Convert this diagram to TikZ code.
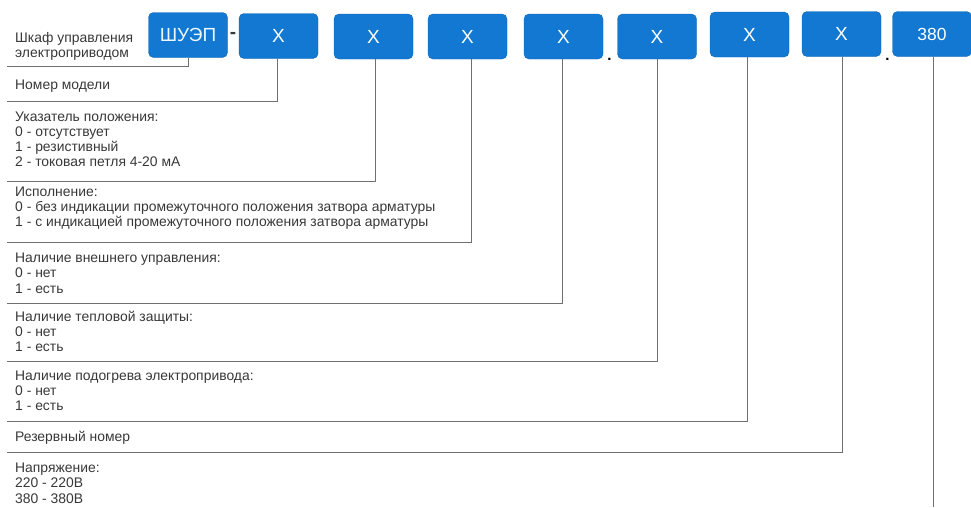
\documentclass[tikz,border=0pt]{standalone}
\usepackage{fontspec}
\setmainfont{Liberation Sans}
\definecolor{boxblue}{HTML}{1278D2}
\definecolor{boxedge}{HTML}{0E66B4}
\definecolor{txt}{HTML}{383838}
\definecolor{ln}{HTML}{707070}
\begin{document}
\begin{tikzpicture}[x=1pt,y=-1pt,
  code/.style={draw=boxedge,fill=boxblue,rounded corners=5pt,minimum width=79pt,minimum height=45pt,inner sep=0pt,text=white,font=\fontsize{19}{19}\selectfont},
  desc/.style={anchor=base west,inner sep=0pt,align=left,text=txt,font=\fontsize{13.9}{15}\selectfont},
  lead/.style={draw=ln,line width=1pt}]
\useasboundingbox (0,0) rectangle (971,507);
% code boxes
\node[code,text=cyan!8] (b0) at (188,35) {ШУЭП};
\node[code] (b1) at (278.5,36) {X};
\node[code] (b2) at (373.5,36.5) {X};
\node[code] (b3) at (467.5,36.5) {X};
\node[code] (b4) at (563.5,36.5) {X};
\node[code] (b5) at (657,36.5) {X};
\node[code] (b6) at (749.5,34.5) {X};
\node[code] (b7) at (841.5,34) {X};
\node[code,font=\fontsize{17.5}{17.5}\selectfont] (b8) at (932,34) {380};
% separators
\node[text=txt,inner sep=0pt,font=\fontsize{19}{19}\bfseries] (s0) at (233,35) {-};
\node[text=black,inner sep=0pt,font=\fontsize{15}{15}\bfseries] (s1) at (609.5,59) {.};
\node[text=black,inner sep=0pt,font=\fontsize{15}{15}\bfseries] (s2) at (887.5,59) {.};
% descriptions (anchor = baseline of last line)
\node[desc] (t0) at (15,57) {Шкаф управления\\электроприводом};
\node[desc] (t1) at (15,89) {Номер модели};
\node[desc,font=\fontsize{13.9}{14.7}\selectfont] (t2) at (15,166) {Указатель положения:\\0 - отсутствует\\1 - резистивный\\2 - токовая петля 4-20 мА};
\node[desc] (t3) at (15,226) {Исполнение:\\0 - без индикации промежуточного положения затвора арматуры\\1 - с индикацией промежуточного положения затвора арматуры};
\node[desc,font=\fontsize{13.9}{15.5}\selectfont] (t4) at (15,293) {Наличие внешнего управления:\\0 - нет\\1 - есть};
\node[desc] (t5) at (15,351) {Наличие тепловой защиты:\\0 - нет\\1 - есть};
\node[desc] (t6) at (15,410) {Наличие подогрева электропривода:\\0 - нет\\1 - есть};
\node[desc] (t7) at (15,441) {Резервный номер};
\node[desc,font=\fontsize{13.9}{15.5}\selectfont] (t8) at (15,503) {Напряжение:\\220 - 220В\\380 - 380В};
% corner and end coordinates
\coordinate (c0) at (188,66);   \coordinate (e0) at (7,66);
\coordinate (c1) at (277,101);  \coordinate (e1) at (7,101);
\coordinate (c2) at (375,181);  \coordinate (e2) at (7,181);
\coordinate (c3) at (471,242);  \coordinate (e3) at (7,242);
\coordinate (c4) at (562,303);  \coordinate (e4) at (7,303);
\coordinate (c5) at (657,361);  \coordinate (e5) at (7,361);
\coordinate (c6) at (747,421);  \coordinate (e6) at (7,421);
\coordinate (c7) at (842,452);  \coordinate (e7) at (7,452);
\coordinate (c8) at (933,507);
% leaders
\draw[lead] (b0.south -| c0) -- (c0) -- (e0);
\draw[lead] (b1.south -| c1) -- (c1) -- (e1);
\draw[lead] (b2.south -| c2) -- (c2) -- (e2);
\draw[lead] (b3.south -| c3) -- (c3) -- (e3);
\draw[lead] (b4.south -| c4) -- (c4) -- (e4);
\draw[lead] (b5.south -| c5) -- (c5) -- (e5);
\draw[lead] (b6.south -| c6) -- (c6) -- (e6);
\draw[lead] (b7.south -| c7) -- (c7) -- (e7);
\draw[lead] (b8.south -| c8) -- (c8);
\end{tikzpicture}
\end{document}
